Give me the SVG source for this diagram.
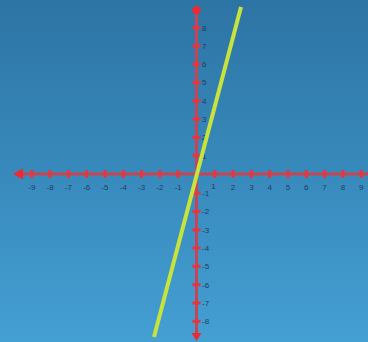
<svg xmlns="http://www.w3.org/2000/svg" width="368" height="342" viewBox="0 0 368 342">
<defs>
<linearGradient id="bg" x1="0" y1="0" x2="0" y2="1">
<stop offset="0" stop-color="#2c74a4"/>
<stop offset="1" stop-color="#449fd3"/>
</linearGradient>
<style>
.axis{stroke:#c94452;stroke-width:3;fill:none}
.tick{stroke:#e8343c;stroke-width:3}
.arrow{fill:#ee2a30}
.lbl{font-family:"Liberation Sans",Arial,sans-serif;font-size:8px;fill:#1e3d66}
.xl{text-anchor:middle}
.line{stroke:#c8e43c;stroke-width:4;stroke-linecap:butt}
</style>
</defs>
<rect width="368" height="342" fill="url(#bg)"/>
<g id="x-axis">
<line class="axis" x1="20" y1="174" x2="368" y2="174"/>
<polygon class="arrow" points="13,174 23,168.5 23,179.5"/>
<g class="tick">
<line x1="31.8" y1="170" x2="31.8" y2="178"/>
<line x1="50.1" y1="170" x2="50.1" y2="178"/>
<line x1="68.4" y1="170" x2="68.4" y2="178"/>
<line x1="86.7" y1="170" x2="86.7" y2="178"/>
<line x1="105" y1="170" x2="105" y2="178"/>
<line x1="123.3" y1="170" x2="123.3" y2="178"/>
<line x1="141.6" y1="170" x2="141.6" y2="178"/>
<line x1="159.9" y1="170" x2="159.9" y2="178"/>
<line x1="178.2" y1="170" x2="178.2" y2="178"/>
<line x1="214.8" y1="170" x2="214.8" y2="178"/>
<line x1="233.1" y1="170" x2="233.1" y2="178"/>
<line x1="251.4" y1="170" x2="251.4" y2="178"/>
<line x1="269.7" y1="170" x2="269.7" y2="178"/>
<line x1="288" y1="170" x2="288" y2="178"/>
<line x1="306.3" y1="170" x2="306.3" y2="178"/>
<line x1="324.6" y1="170" x2="324.6" y2="178"/>
<line x1="342.9" y1="170" x2="342.9" y2="178"/>
<line x1="361.2" y1="170" x2="361.2" y2="178"/>
</g>
</g>
<g id="y-axis">
<line class="axis" x1="196.5" y1="12" x2="196.5" y2="334"/>
<circle class="arrow" cx="196.5" cy="10" r="4"/>
<polygon class="arrow" points="192,8 201,8 196.5,13"/>
<polygon class="arrow" points="196.5,341 191.5,333 201.5,333"/>
<g class="tick">
<line x1="192.5" y1="27.6" x2="200.5" y2="27.6"/>
<line x1="192.5" y1="45.9" x2="200.5" y2="45.9"/>
<line x1="192.5" y1="64.2" x2="200.5" y2="64.2"/>
<line x1="192.5" y1="82.5" x2="200.5" y2="82.5"/>
<line x1="192.5" y1="100.8" x2="200.5" y2="100.8"/>
<line x1="192.5" y1="119.1" x2="200.5" y2="119.1"/>
<line x1="192.5" y1="137.4" x2="200.5" y2="137.4"/>
<line x1="192.5" y1="155.7" x2="200.5" y2="155.7"/>
<line x1="192.5" y1="193" x2="200.5" y2="193"/>
<line x1="192.5" y1="211.5" x2="200.5" y2="211.5"/>
<line x1="192.5" y1="229.8" x2="200.5" y2="229.8"/>
<line x1="192.5" y1="248.1" x2="200.5" y2="248.1"/>
<line x1="192.5" y1="266.4" x2="200.5" y2="266.4"/>
<line x1="192.5" y1="284.7" x2="200.5" y2="284.7"/>
<line x1="192.5" y1="303" x2="200.5" y2="303"/>
<line x1="192.5" y1="321.3" x2="200.5" y2="321.3"/>
</g>
</g>
<g id="x-labels" class="lbl xl">
<text x="31.8" y="190">-9</text>
<text x="50.1" y="190">-8</text>
<text x="68.4" y="190">-7</text>
<text x="86.7" y="190">-6</text>
<text x="105" y="190">-5</text>
<text x="123.3" y="190">-4</text>
<text x="141.6" y="190">-3</text>
<text x="159.9" y="190">-2</text>
<text x="178.2" y="190">-1</text>
<text x="213.5" y="189">1</text>
<text x="233.1" y="190">2</text>
<text x="251.4" y="190">3</text>
<text x="269.7" y="190">4</text>
<text x="288" y="190">5</text>
<text x="306.3" y="190">6</text>
<text x="324.6" y="190">7</text>
<text x="342.9" y="190">8</text>
<text x="361.2" y="190">9</text>
</g>
<g id="y-labels" class="lbl">
<text x="202" y="30.5">8</text>
<text x="202" y="48.8">7</text>
<text x="202" y="67.1">6</text>
<text x="202" y="85.4">5</text>
<text x="202" y="103.7">4</text>
<text x="202" y="122">3</text>
<text x="202" y="140.3">2</text>
<text x="202" y="158.6">1</text>
<text x="202" y="196">-1</text>
<text x="202" y="214.4">-2</text>
<text x="202" y="232.7">-3</text>
<text x="202" y="251">-4</text>
<text x="202" y="269.3">-5</text>
<text x="202" y="287.6">-6</text>
<text x="202" y="305.9">-7</text>
<text x="202" y="324.2">-8</text>
</g>
<g id="graph-line">
<line class="line" x1="241" y1="7" x2="154" y2="337"/>
</g>
</svg>
